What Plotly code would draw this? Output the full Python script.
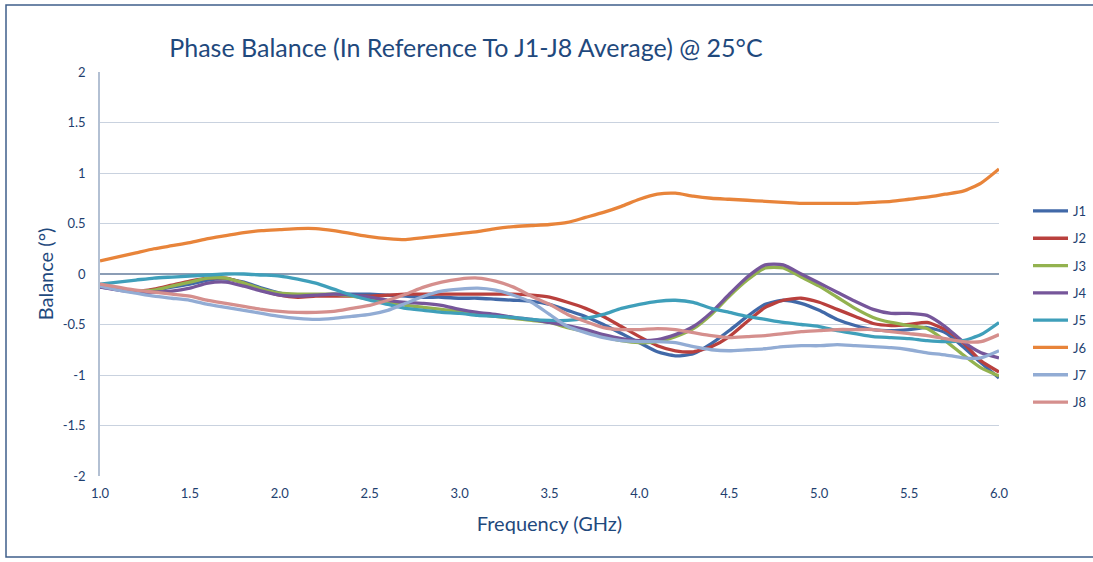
import plotly.graph_objects as go

freq = [round(1.0 + 0.1 * i, 1) for i in range(51)]

series_names = ["J1", "J2", "J3", "J4", "J5", "J6", "J7", "J8"]

J1 = [-0.13, -0.15, -0.17, -0.16, -0.13, -0.10, -0.06, -0.05, -0.08, -0.14,
      -0.19, -0.21, -0.21, -0.20, -0.20, -0.20, -0.21, -0.22, -0.23, -0.23,
      -0.24, -0.24, -0.25, -0.26, -0.27, -0.30, -0.36, -0.42, -0.50, -0.59,
      -0.68, -0.77, -0.81, -0.79, -0.69, -0.56, -0.42, -0.30, -0.26, -0.29,
      -0.36, -0.45, -0.51, -0.55, -0.56, -0.55, -0.53, -0.58, -0.72, -0.88, -1.03]
J2 = [-0.12, -0.15, -0.17, -0.15, -0.11, -0.07, -0.04, -0.04, -0.09, -0.16,
      -0.21, -0.23, -0.22, -0.22, -0.22, -0.22, -0.21, -0.20, -0.20, -0.20,
      -0.20, -0.20, -0.20, -0.20, -0.21, -0.23, -0.28, -0.34, -0.42, -0.52,
      -0.62, -0.71, -0.76, -0.77, -0.72, -0.62, -0.47, -0.33, -0.26, -0.24,
      -0.28, -0.35, -0.42, -0.49, -0.51, -0.50, -0.48, -0.55, -0.68, -0.86, -0.97]
J3 = [-0.12, -0.15, -0.17, -0.16, -0.12, -0.08, -0.04, -0.04, -0.09, -0.15,
      -0.19, -0.20, -0.20, -0.20, -0.22, -0.25, -0.28, -0.31, -0.33, -0.35,
      -0.37, -0.40, -0.42, -0.44, -0.46, -0.48, -0.53, -0.57, -0.62, -0.66,
      -0.68, -0.67, -0.62, -0.54, -0.40, -0.22, -0.06, 0.06, 0.06, -0.03,
      -0.12, -0.23, -0.34, -0.43, -0.48, -0.51, -0.54, -0.66, -0.80, -0.93, -1.01]
J4 = [-0.13, -0.16, -0.18, -0.18, -0.17, -0.14, -0.09, -0.08, -0.12, -0.17,
      -0.21, -0.22, -0.21, -0.20, -0.21, -0.23, -0.26, -0.28, -0.29, -0.31,
      -0.35, -0.38, -0.40, -0.43, -0.45, -0.48, -0.51, -0.55, -0.60, -0.64,
      -0.66, -0.65, -0.60, -0.52, -0.38, -0.20, -0.03, 0.09, 0.09, 0.00,
      -0.09, -0.18, -0.27, -0.35, -0.39, -0.39, -0.41, -0.52, -0.67, -0.78, -0.83]
J5 = [-0.10, -0.08, -0.06, -0.04, -0.03, -0.02, -0.01, 0.00, 0.00, -0.01,
      -0.02, -0.05, -0.09, -0.15, -0.21, -0.26, -0.30, -0.34, -0.36, -0.38,
      -0.39, -0.41, -0.42, -0.43, -0.45, -0.46, -0.46, -0.44, -0.40, -0.34,
      -0.30, -0.27, -0.26, -0.28, -0.34, -0.38, -0.42, -0.45, -0.48, -0.50,
      -0.52, -0.56, -0.59, -0.62, -0.63, -0.64, -0.66, -0.67, -0.66, -0.60, -0.48]
J6 = [0.13, 0.17, 0.21, 0.25, 0.28, 0.31, 0.35, 0.38, 0.41, 0.43,
      0.44, 0.45, 0.45, 0.43, 0.40, 0.37, 0.35, 0.34, 0.36, 0.38,
      0.40, 0.42, 0.45, 0.47, 0.48, 0.49, 0.51, 0.56, 0.61, 0.67,
      0.74, 0.79, 0.80, 0.77, 0.75, 0.74, 0.73, 0.72, 0.71, 0.70,
      0.70, 0.70, 0.70, 0.71, 0.72, 0.74, 0.76, 0.79, 0.82, 0.90, 1.04]
J7 = [-0.12, -0.16, -0.19, -0.22, -0.24, -0.26, -0.30, -0.33, -0.36, -0.39,
      -0.42, -0.44, -0.45, -0.44, -0.42, -0.40, -0.36, -0.29, -0.22, -0.17,
      -0.15, -0.14, -0.16, -0.21, -0.28, -0.40, -0.52, -0.58, -0.63, -0.66,
      -0.67, -0.67, -0.68, -0.72, -0.75, -0.76, -0.75, -0.74, -0.72, -0.71,
      -0.71, -0.70, -0.71, -0.72, -0.73, -0.75, -0.78, -0.80, -0.83, -0.83, -0.76]
J8 = [-0.10, -0.13, -0.16, -0.18, -0.20, -0.22, -0.26, -0.29, -0.32, -0.35,
      -0.37, -0.38, -0.38, -0.37, -0.34, -0.31, -0.26, -0.20, -0.13, -0.08,
      -0.05, -0.04, -0.07, -0.13, -0.22, -0.30, -0.40, -0.47, -0.53, -0.55,
      -0.55, -0.54, -0.55, -0.58, -0.61, -0.63, -0.62, -0.61, -0.59, -0.57,
      -0.56, -0.55, -0.55, -0.55, -0.57, -0.59, -0.61, -0.64, -0.67, -0.67, -0.60]

series_values = [J1, J2, J3, J4, J5, J6, J7, J8]
colors = ["#4169a8", "#b9403d", "#93b24f", "#76569a", "#3f9fba", "#e8843a", "#92acd4", "#d58f8d"]

x_ticks = [1.0, 1.5, 2.0, 2.5, 3.0, 3.5, 4.0, 4.5, 5.0, 5.5, 6.0]
y_ticks = [-2, -1.5, -1, -0.5, 0, 0.5, 1, 1.5, 2]

TEXT = "#1F3F6F"
FONT = "Lato"

fig = go.Figure()
for name, vals, c in zip(series_names, series_values, colors):
    fig.add_trace(go.Scatter(
        x=freq, y=vals, name=name, mode="lines",
        line=dict(color=c, width=3.3, shape="spline", smoothing=0.6),
        legendgroup=name,
    ))

W, H = 1093, 562
L, R, T, B = 100, 94, 72, 86
pw, ph = W - L - R, H - T - B

def px_x(p):
    return (p - L) / pw

def px_y(p):
    return (H - B - p) / ph

fig.update_layout(
    width=W, height=H,
    margin=dict(l=L, r=R, t=T, b=B, autoexpand=False),
    paper_bgcolor="white", plot_bgcolor="white",
    font=dict(family=FONT, color=TEXT),
    title=dict(text="Phase Balance (In Reference To J1-J8 Average) @ 25°C",
               x=466 / W, xanchor="center", xref="container",
               y=1 - 48 / H, yanchor="middle", yref="container",
               font=dict(family=FONT, size=25, color="#1F497D")),
    showlegend=True,
    legend=dict(x=px_x(1028), xanchor="left", y=px_y(196), yanchor="top",
                font=dict(family=FONT, size=13, color=TEXT),
                itemwidth=35,
                tracegroupgap=7.4, bgcolor="rgba(0,0,0,0)", borderwidth=0),
    xaxis=dict(range=[1.0, 6.0], tickvals=x_ticks, ticktext=[f"{v:.1f}" for v in x_ticks],
               showgrid=False, zeroline=False, showline=False,
               ticks="", ticklabelstandoff=8,
               tickfont=dict(family=FONT, size=13, color=TEXT),
               title=dict(text="Frequency (GHz)", standoff=16,
                          font=dict(family=FONT, size=20, color="#1F497D"))),
    yaxis=dict(range=[-2, 2], tickvals=y_ticks, ticktext=[f"{v:g}" for v in y_ticks],
               showgrid=True, gridcolor="#c9d2df", gridwidth=1.2,
               zeroline=True, zerolinecolor="#8b9db5", zerolinewidth=2,
               showline=True, linecolor="#b3c0d3", linewidth=1.5,
               ticks="", ticklabelstandoff=10,
               tickfont=dict(family=FONT, size=13, color=TEXT),
               title=dict(text="Balance (°)", standoff=4,
                          font=dict(family=FONT, size=20, color="#1F497D"))),
    shapes=[
        dict(type="rect", xref="paper", yref="paper",
             x0=px_x(6), x1=px_x(1115), y0=px_y(557), y1=px_y(5),
             line=dict(color="#3f5f8a", width=1.5), fillcolor="rgba(0,0,0,0)", layer="below"),
    ],
)

fig.write_html("out.html", config={"displayModeBar": False},
               post_script="document.body.style.margin='0';")
